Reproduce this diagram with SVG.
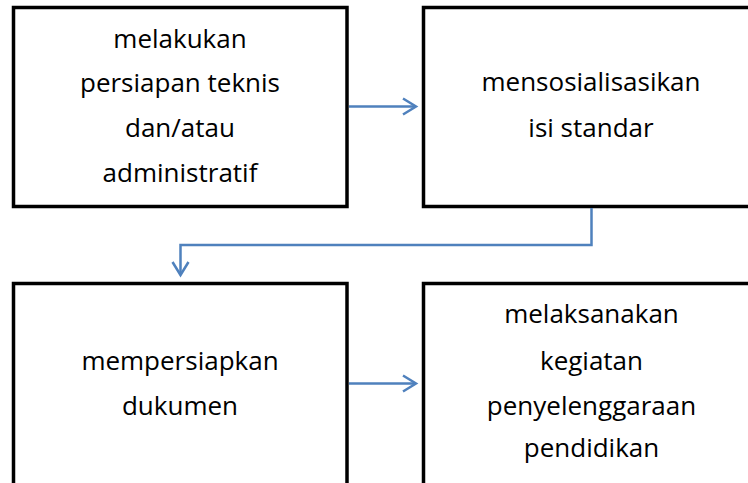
<svg xmlns="http://www.w3.org/2000/svg" width="748" height="483" viewBox="0 0 748 483">
<defs>
<style>
.box{fill:#fff;stroke:#000;stroke-width:3.5}
.t{font-family:"Open Sans","Liberation Sans",sans-serif;font-size:26px;fill:#000;text-anchor:middle}
.c{fill:none;stroke:#4f81bd;stroke-width:2.5}
</style>
<marker id="ah" markerWidth="20" markerHeight="20" refX="14" refY="9" orient="auto" markerUnits="userSpaceOnUse" viewBox="0 0 20 18">
<path d="M1,1 L14,9 L1,17" fill="none" stroke="#4f81bd" stroke-width="2.5"/>
</marker>
</defs>
<rect width="748" height="483" fill="#fff"/>
<g id="node1">
<rect class="box" x="13.5" y="7.5" width="333.5" height="199"/>
<text class="t" x="180" y="48">melakukan</text>
<text class="t" x="180" y="92">persiapan teknis</text>
<text class="t" x="180" y="137">dan/atau</text>
<text class="t" x="180" y="182">administratif</text>
</g>
<g id="node2">
<rect class="box" x="423.5" y="7.5" width="336" height="199"/>
<text class="t" x="591" y="91">mensosialisasikan</text>
<text class="t" x="591" y="137">isi standar</text>
</g>
<g id="node3">
<rect class="box" x="13.5" y="283.5" width="333.5" height="210"/>
<text class="t" x="180" y="370">mempersiapkan</text>
<text class="t" x="180" y="415">dukumen</text>
</g>
<g id="node4">
<rect class="box" x="423.5" y="283.5" width="336" height="210"/>
<text class="t" x="591.5" y="323">melaksanakan</text>
<text class="t" x="591.5" y="370">kegiatan</text>
<text class="t" x="591.5" y="415">penyelenggaraan</text>
<text class="t" x="591.5" y="457">pendidikan</text>
</g>
<g id="connectors">
<path class="c" d="M349,106.5 L416,106.5" marker-end="url(#ah)"/>
<path class="c" d="M591.5,208 L591.5,245 L180.5,245 L180.5,275" marker-end="url(#ah)"/>
<path class="c" d="M349,383.5 L416,383.5" marker-end="url(#ah)"/>
</g>
</svg>
